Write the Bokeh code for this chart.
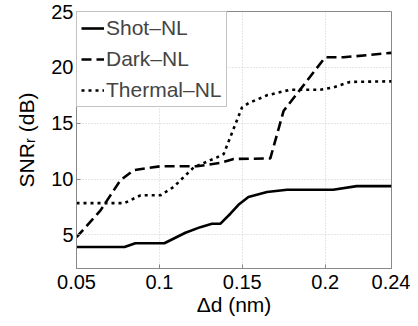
from bokeh.plotting import figure
from bokeh.models import FixedTicker, Range1d, Legend, LegendItem
from bokeh.embed import file_html
from bokeh.resources import INLINE

# Data
shot_x = [0.05, 0.079, 0.0855, 0.103, 0.1157, 0.1247, 0.1317, 0.1367, 0.1428, 0.1477, 0.1537, 0.1649, 0.177, 0.2048, 0.219, 0.24]
shot_y = [3.93, 3.93, 4.26, 4.26, 5.2, 5.7, 6.0, 6.0, 6.9, 7.7, 8.4, 8.85, 9.05, 9.05, 9.37, 9.37]

dark_x = [0.05, 0.0645, 0.0765, 0.0845, 0.1006, 0.1227, 0.1367, 0.1448, 0.1669, 0.1749, 0.2, 0.211, 0.24]
dark_y = [4.8, 7.2, 9.9, 10.8, 11.15, 11.15, 11.45, 11.8, 11.85, 16.1, 20.9, 20.9, 21.3]

therm_x = [0.05, 0.0789, 0.0886, 0.1006, 0.1086, 0.1207, 0.1347, 0.1388, 0.1498, 0.1538, 0.1649, 0.1789, 0.197, 0.2048, 0.215, 0.24]
therm_y = [7.85, 7.85, 8.55, 8.55, 9.3, 11.05, 11.95, 12.25, 16.4, 16.8, 17.5, 18.0, 18.0, 18.2, 18.7, 18.75]

x_ticks = [0.05, 0.1, 0.15, 0.2, 0.24]
x_tick_labels = ["0.05", "0.1", "0.15", "0.2", "0.24"]
y_ticks = [5, 10, 15, 20, 25]

FONT = "Liberation Sans"

p = figure(width=410, height=318, output_backend="svg", toolbar_location=None,
           x_range=Range1d(0.05, 0.24), y_range=Range1d(2, 25),
           min_border_left=76, min_border_right=19, min_border_top=11, min_border_bottom=49)
p.background_fill_color = "white"
p.border_fill_color = "white"
p.outline_line_color = "#888888"
p.outline_line_width = 1

for ax in (p.xaxis[0], p.yaxis[0]):
    ax.axis_line_color = "#888888"
    ax.major_tick_line_color = "#888888"
    ax.major_tick_in = 4
    ax.major_tick_out = 0
    ax.minor_tick_line_color = None
    ax.major_label_text_font = FONT
    ax.major_label_text_font_size = "20px"
    ax.major_label_text_color = "black"
    ax.axis_label_text_font = FONT
    ax.axis_label_text_font_size = "21px"
    ax.axis_label_text_font_style = "normal"
    ax.axis_label_text_color = "black"

p.xaxis.ticker = FixedTicker(ticks=x_ticks)
p.xaxis.major_label_overrides = {t: l for t, l in zip(x_ticks, x_tick_labels)}
p.yaxis.ticker = FixedTicker(ticks=y_ticks)
p.xaxis.axis_label = "Δd (nm)"
p.yaxis.axis_label = "SNRᵣ (dB)"
p.xaxis.major_label_standoff = 6
p.yaxis.major_label_standoff = 3
p.xaxis.axis_label_standoff = 1
p.yaxis.axis_label_standoff = 10

p.xgrid.grid_line_color = "#cccccc"
p.ygrid.grid_line_color = "#cccccc"
p.xgrid.grid_line_dash = "1 2"
p.ygrid.grid_line_dash = "1 2"

r1 = p.line(shot_x, shot_y, line_color="black", line_width=2.6)
r2 = p.line(dark_x, dark_y, line_color="black", line_width=2.6, line_dash="10 5")
r3 = p.line(therm_x, therm_y, line_color="black", line_width=2.6, line_dash="3 4")

legend = Legend(items=[LegendItem(label="Shot\u2013NL", renderers=[r1]),
                       LegendItem(label="Dark\u2013NL", renderers=[r2]),
                       LegendItem(label="Thermal\u2013NL", renderers=[r3])],
                location="top_left")
legend.margin = 0
legend.padding = 4
legend.spacing = 7
legend.glyph_width = 23
legend.label_standoff = 2
legend.label_text_font = FONT
legend.label_text_font_size = "21px"
legend.border_line_color = "#888888"
legend.border_line_width = 1
legend.background_fill_alpha = 1
p.add_layout(legend)

open("out.html", "w").write(file_html(p, INLINE))
